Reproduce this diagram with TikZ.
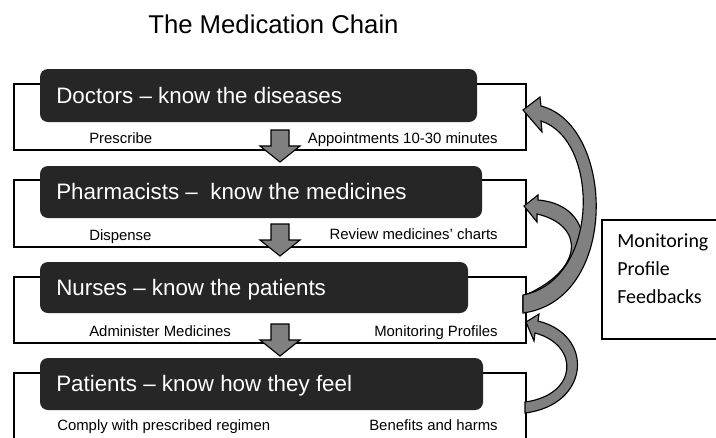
\documentclass[tikz,border=0pt]{standalone}
\usepackage{fontspec}
\setmainfont{Liberation Sans}
\newfontfamily\calibrifont{Carlito}
\definecolor{boxfill}{RGB}{38,38,38}
\definecolor{blockgrey}{RGB}{128,128,128}
\tikzset{
  rowframe/.style={draw=black,line width=1.1pt,fill=white},
  rowbox/.style={fill=boxfill,rounded corners=0.2cm},
  bigtext/.style={anchor=base west,inner sep=0pt,text=white,font=\fontsize{15.9}{18}\selectfont},
  smalltext/.style={anchor=base west,inner sep=0pt,font=\fontsize{10.6}{12}\selectfont},
  sidetext/.style={anchor=base west,inner sep=0pt,font=\calibrifont\fontsize{14.2}{17}\selectfont},
  blockarrow/.style={fill=blockgrey,draw=black,line width=0.8pt,line join=miter}
}
\begin{document}
\begin{tikzpicture}[x=0.025cm,y=-0.025cm]
\useasboundingbox (0,0) rectangle (716,437);
\clip (0,0) rectangle (716,437);

\node[anchor=base west,inner sep=0pt,font=\fontsize{18.3}{22}\selectfont] (title) at (148,33) {The Medication Chain};

% frames behind the rows
\foreach \ya/\yb in {84/150,180/247,277/343,373/445}{ \draw[rowframe] (14,\ya) rectangle (526,\yb);}
\draw[rowframe] (602,220) rectangle (725,339);

% dark rows
\foreach \ya/\yb/\xr in {69/122/477,166/218/482,262/313/468,358/410/483}{ \fill[rowbox] (40,\ya) rectangle (\xr,\yb);}

\node[bigtext] (doctors) at (56,103) {Doctors – know the diseases};
\node[bigtext] (pharmacists) at (56,199) {Pharmacists –~ know the medicines};
\node[bigtext] (nurses) at (56,295) {Nurses – know the patients};
\node[bigtext] (patients) at (56,391) {Patients – know how they feel};

\foreach \a/\b in {143/Prescribe,240/Dispense,336/Administer Medicines}{ \node[smalltext] (left\a) at (89,\a){\b};}
\node[smalltext] (left430) at (57,430) {Comply with prescribed regimen};

\foreach \a/\b in {143/Appointments 10-30 minutes,239/Review medicines’ charts,336/Monitoring Profiles,430/Benefits and harms}{ \node[smalltext,anchor=base east] (right\a) at (498,\a){\b};}

\foreach \a/\b in {247/Monitoring,275/Profile,303/Feedbacks}{ \node[sidetext] (side\a) at (617,\a){\b};}

% down arrows
\foreach \y in {130,224,324}{ \draw[blockarrow] (271,\y) -- (289,\y) -- (289,\y+16) -- (300,\y+16) -- (280,\y+32) -- (260,\y+16) -- (271,\y+16) -- cycle;}

% feedback arrows
\draw[blockarrow] (523,296) .. controls (585,270) and (585,225) .. (537,214) -- (537,222) -- (524,206) -- (538,195) -- (538,200) .. controls (600,205) and (600,280) .. (523,311) -- cycle;
\draw[blockarrow] (523,295) .. controls (600,280) and (600,140) .. (541,121) -- (542,132) -- (523,110) -- (540,97) -- (541,106) .. controls (615,125) and (620,300) .. (523,313) -- cycle;
\draw[blockarrow] (525,402) .. controls (578,395) and (580,345) .. (535,333) -- (534,341) -- (526,322) -- (539,314) -- (538,321) .. controls (595,335) and (590,405) .. (525,413) -- cycle;

\end{tikzpicture}
\end{document}
